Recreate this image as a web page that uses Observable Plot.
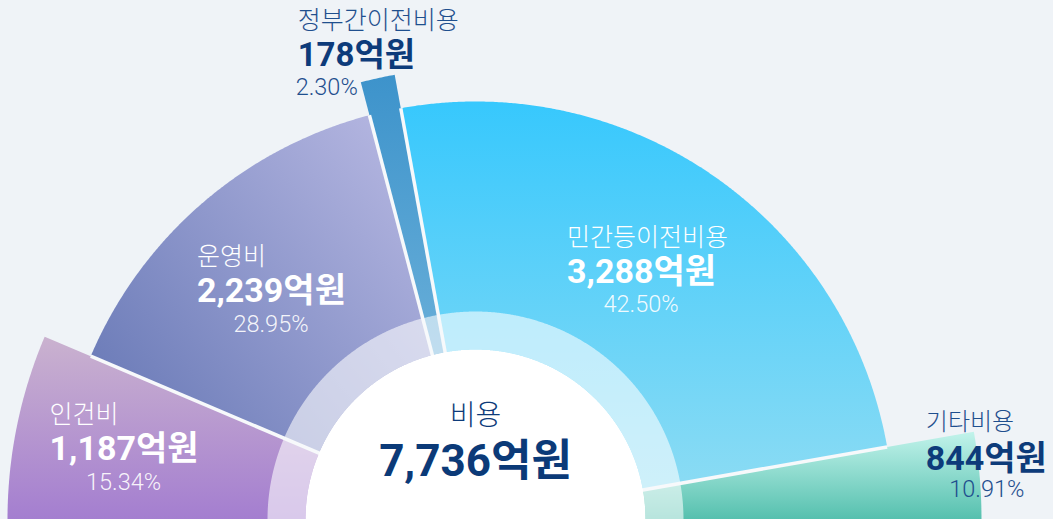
<!DOCTYPE html>
<html><head><meta charset="utf-8">
<script src="https://cdn.jsdelivr.net/npm/d3@7"></script>
<script src="https://cdn.jsdelivr.net/npm/@observablehq/plot@0.6"></script>
<style>
html,body{margin:0;padding:0;background:#eff3f7;overflow:hidden}
#chart svg{display:block}
</style></head><body><div id="chart"></div>
<script>
// ---- data ----
const categories = ["인건비", "운영비", "정부간이전비용", "민간등이전비용", "기타비용"];
const amounts = [1187, 2239, 178, 3288, 844];          // 억원
const shares = [15.34, 28.95, 2.30, 42.50, 10.91];      // %
const totalLabel = "비용";
const totalAmount = 7736;                                // 억원
// visual encodings (angular sweep in degrees of the half circle, outer reach)
const sweepDeg = [23, 52.3, 4.4, 90.3, 10];
const reach = [468, 418, 452, 418, 506];
const insideLabel = [true, true, false, true, false];

// ---- geometry helpers ----
const DISC = 170, RING = 208, LABEL_INSET = 116;
const rad = d => d * Math.PI / 180;
const B = [180]; sweepDeg.forEach((s, i) => B.push(B[i] - s));
const slices = categories.map((c, i) => ({
  category: c, amount: amounts[i], share: shares[i],
  a0: B[i], a1: B[i + 1], mid: (B[i] + B[i + 1]) / 2, reach: reach[i], inside: insideLabel[i]
}));
function arc(r, a0, a1) {
  const n = Math.max(2, Math.ceil(Math.abs(a1 - a0) / 0.25));
  return d3.range(n + 1).map(k => {
    const a = rad(a0 + (a1 - a0) * k / n);
    return {x: r * Math.cos(a), y: r * Math.sin(a)};
  });
}
const fmtAmt = v => d3.format(",")(v) + "억원";
const fmtPct = v => v.toFixed(2) + "%";
const FONT = "Roboto, 'Noto Sans CJK KR', sans-serif";

const marks = [];
slices.forEach((s, i) => {
  const pts = [{x: 0, y: 0}, ...arc(s.reach, s.a0, s.a1), {x: 0, y: 0}];
  marks.push(Plot.line(pts, {x: "x", y: "y", fill: `url(#g${i})`, stroke: "none", curve: "linear"}));
});
// translucent ring
marks.push(Plot.line([...arc(RING, 0, 180), ...arc(DISC, 180, 0)],
  {x: "x", y: "y", fill: "white", fillOpacity: 0.58, stroke: "none"}));
// separators
const seps = d3.range(1, slices.length).map(i => ({a: B[i], r: Math.min(reach[i - 1], reach[i])}));
marks.push(Plot.link(seps, {
  x1: () => 0, y1: () => 0,
  x2: d => d.r * Math.cos(rad(d.a)), y2: d => d.r * Math.sin(rad(d.a)),
  stroke: "#f7f9fb", strokeWidth: 3.5
}));
// disc shadow + white disc
const discPts = [...arc(DISC, 0, 180), {x: 0, y: 0}];
marks.push(Plot.line(discPts, {x: "x", y: "y", fill: "#2a3a50", fillOpacity: 0.45, stroke: "none", ariaLabel: "disc-shadow"}));
marks.push(Plot.line(discPts, {x: "x", y: "y", fill: "#ffffff", stroke: "none"}));

// inside labels
const inside = slices.filter(d => d.inside);
const lr = d => d.reach - LABEL_INSET;
const lx = d => lr(d) * Math.cos(rad(d.mid));
const ly = d => lr(d) * Math.sin(rad(d.mid));
marks.push(
  Plot.text(inside, {x: lx, y: ly, text: "category", dx: -81, dy: -34, textAnchor: "start",
    fill: "white", fontSize: 25, fontWeight: 300, fontFamily: FONT}),
  Plot.text(inside, {x: lx, y: ly, text: d => fmtAmt(d.amount), dx: -81, dy: 0, textAnchor: "start",
    fill: "white", fontSize: 34, fontWeight: 700, fontFamily: FONT}),
  Plot.text(inside, {x: lx, y: ly, text: d => fmtPct(d.share), dx: -7, dy: 33,
    fill: "white", fillOpacity: 0.92, fontSize: 23.5, fontWeight: 300, fontFamily: FONT})
);
// outside labels: 정부간이전비용 (above bar tip)
const gov = slices.filter((d, i) => i === 2);
const tx = d => d.reach * Math.cos(rad(d.mid)), ty = d => d.reach * Math.sin(rad(d.mid));
marks.push(
  Plot.text(gov, {x: tx, y: ty, text: "category", dx: -80, dy: -57, textAnchor: "start",
    fill: "#1f4f8e", fontSize: 25, fontWeight: 300, fontFamily: FONT}),
  Plot.text(gov, {x: tx, y: ty, text: d => fmtAmt(d.amount), dx: -80, dy: -23, textAnchor: "start",
    fill: "#0d3b7a", fontSize: 33, fontWeight: 700, fontFamily: FONT}),
  Plot.text(gov, {x: tx, y: ty, text: d => fmtPct(d.share), dx: -82, dy: 9, textAnchor: "start",
    fill: "#1f4f8e", fontSize: 23.5, fontWeight: 300, fontFamily: FONT})
);
// outside labels: 기타비용 (near slice corner)
const etc = slices.filter((d, i) => i === 4);
const cx = d => d.reach * Math.cos(rad(d.a0)), cy = d => d.reach * Math.sin(rad(d.a0));
marks.push(
  Plot.text(etc, {x: cx, y: cy, text: "category", dx: -48, dy: -9, textAnchor: "start",
    fill: "#1f4f8e", fontSize: 24, fontWeight: 300, fontFamily: FONT}),
  Plot.text(etc, {x: cx, y: cy, text: d => fmtAmt(d.amount), dx: -48, dy: 27, textAnchor: "start",
    fill: "#0d3b7a", fontSize: 34, fontWeight: 700, fontFamily: FONT}),
  Plot.text(etc, {x: cx, y: cy, text: d => fmtPct(d.share), dx: 13, dy: 58,
    fill: "#1f4f8e", fontSize: 23.5, fontWeight: 300, fontFamily: FONT})
);
// center
marks.push(
  Plot.text([totalLabel], {x: () => 0, y: () => 103, text: d => d,
    fill: "#0d3b7a", fontSize: 28, fontWeight: 300, fontFamily: FONT}),
  Plot.text([totalAmount], {x: () => 0, y: () => 58, text: d => fmtAmt(d),
    fill: "#0b3a78", fontSize: 44, fontWeight: 700, fontFamily: FONT, letterSpacing: 1.2})
);

const chart = Plot.plot({
  width: 1053, height: 519, margin: 0,
  x: {domain: [-475, 578], range: [0, 1053], axis: null},
  y: {domain: [0, 519], range: [519, 0], axis: null},
  style: {background: "#eff3f7", fontFamily: FONT, overflow: "visible"},
  marks
});
document.getElementById("chart").appendChild(chart);

// gradients + shadow blur
const svg = d3.select(chart);
const defs = svg.insert("defs", ":first-child");
const grads = [
  {x1: 0, y1: 0, x2: 0, y2: 1, stops: ["#cab2cf", "#a47ed0"]},
  {x1: 0, y1: 0.85, x2: 0.9, y2: 0.1, stops: ["#6274b3", "#b7b8e2"]},
  {x1: 0, y1: 0, x2: 0, y2: 1, stops: ["#3d93cb", "#82bfe1"]},
  {x1: 0, y1: 0, x2: 0, y2: 1, stops: ["#37c8fd", "#92ddf3"]},
  {x1: 0, y1: 0, x2: 0, y2: 1, stops: ["#c2f3eb", "#55c0ae"]}
];
grads.forEach((g, i) => {
  const lg = defs.append("linearGradient").attr("id", `g${i}`)
    .attr("x1", g.x1).attr("y1", g.y1).attr("x2", g.x2).attr("y2", g.y2);
  lg.append("stop").attr("offset", 0).attr("stop-color", g.stops[0]);
  lg.append("stop").attr("offset", 1).attr("stop-color", g.stops[1]);
});
const f = defs.append("filter").attr("id", "blur6").attr("x", "-20%").attr("y", "-20%").attr("width", "140%").attr("height", "140%");
f.append("feGaussianBlur").attr("stdDeviation", 5);
svg.select('g[aria-label="disc-shadow"]').attr("filter", "url(#blur6)");
</script>
</body></html>
